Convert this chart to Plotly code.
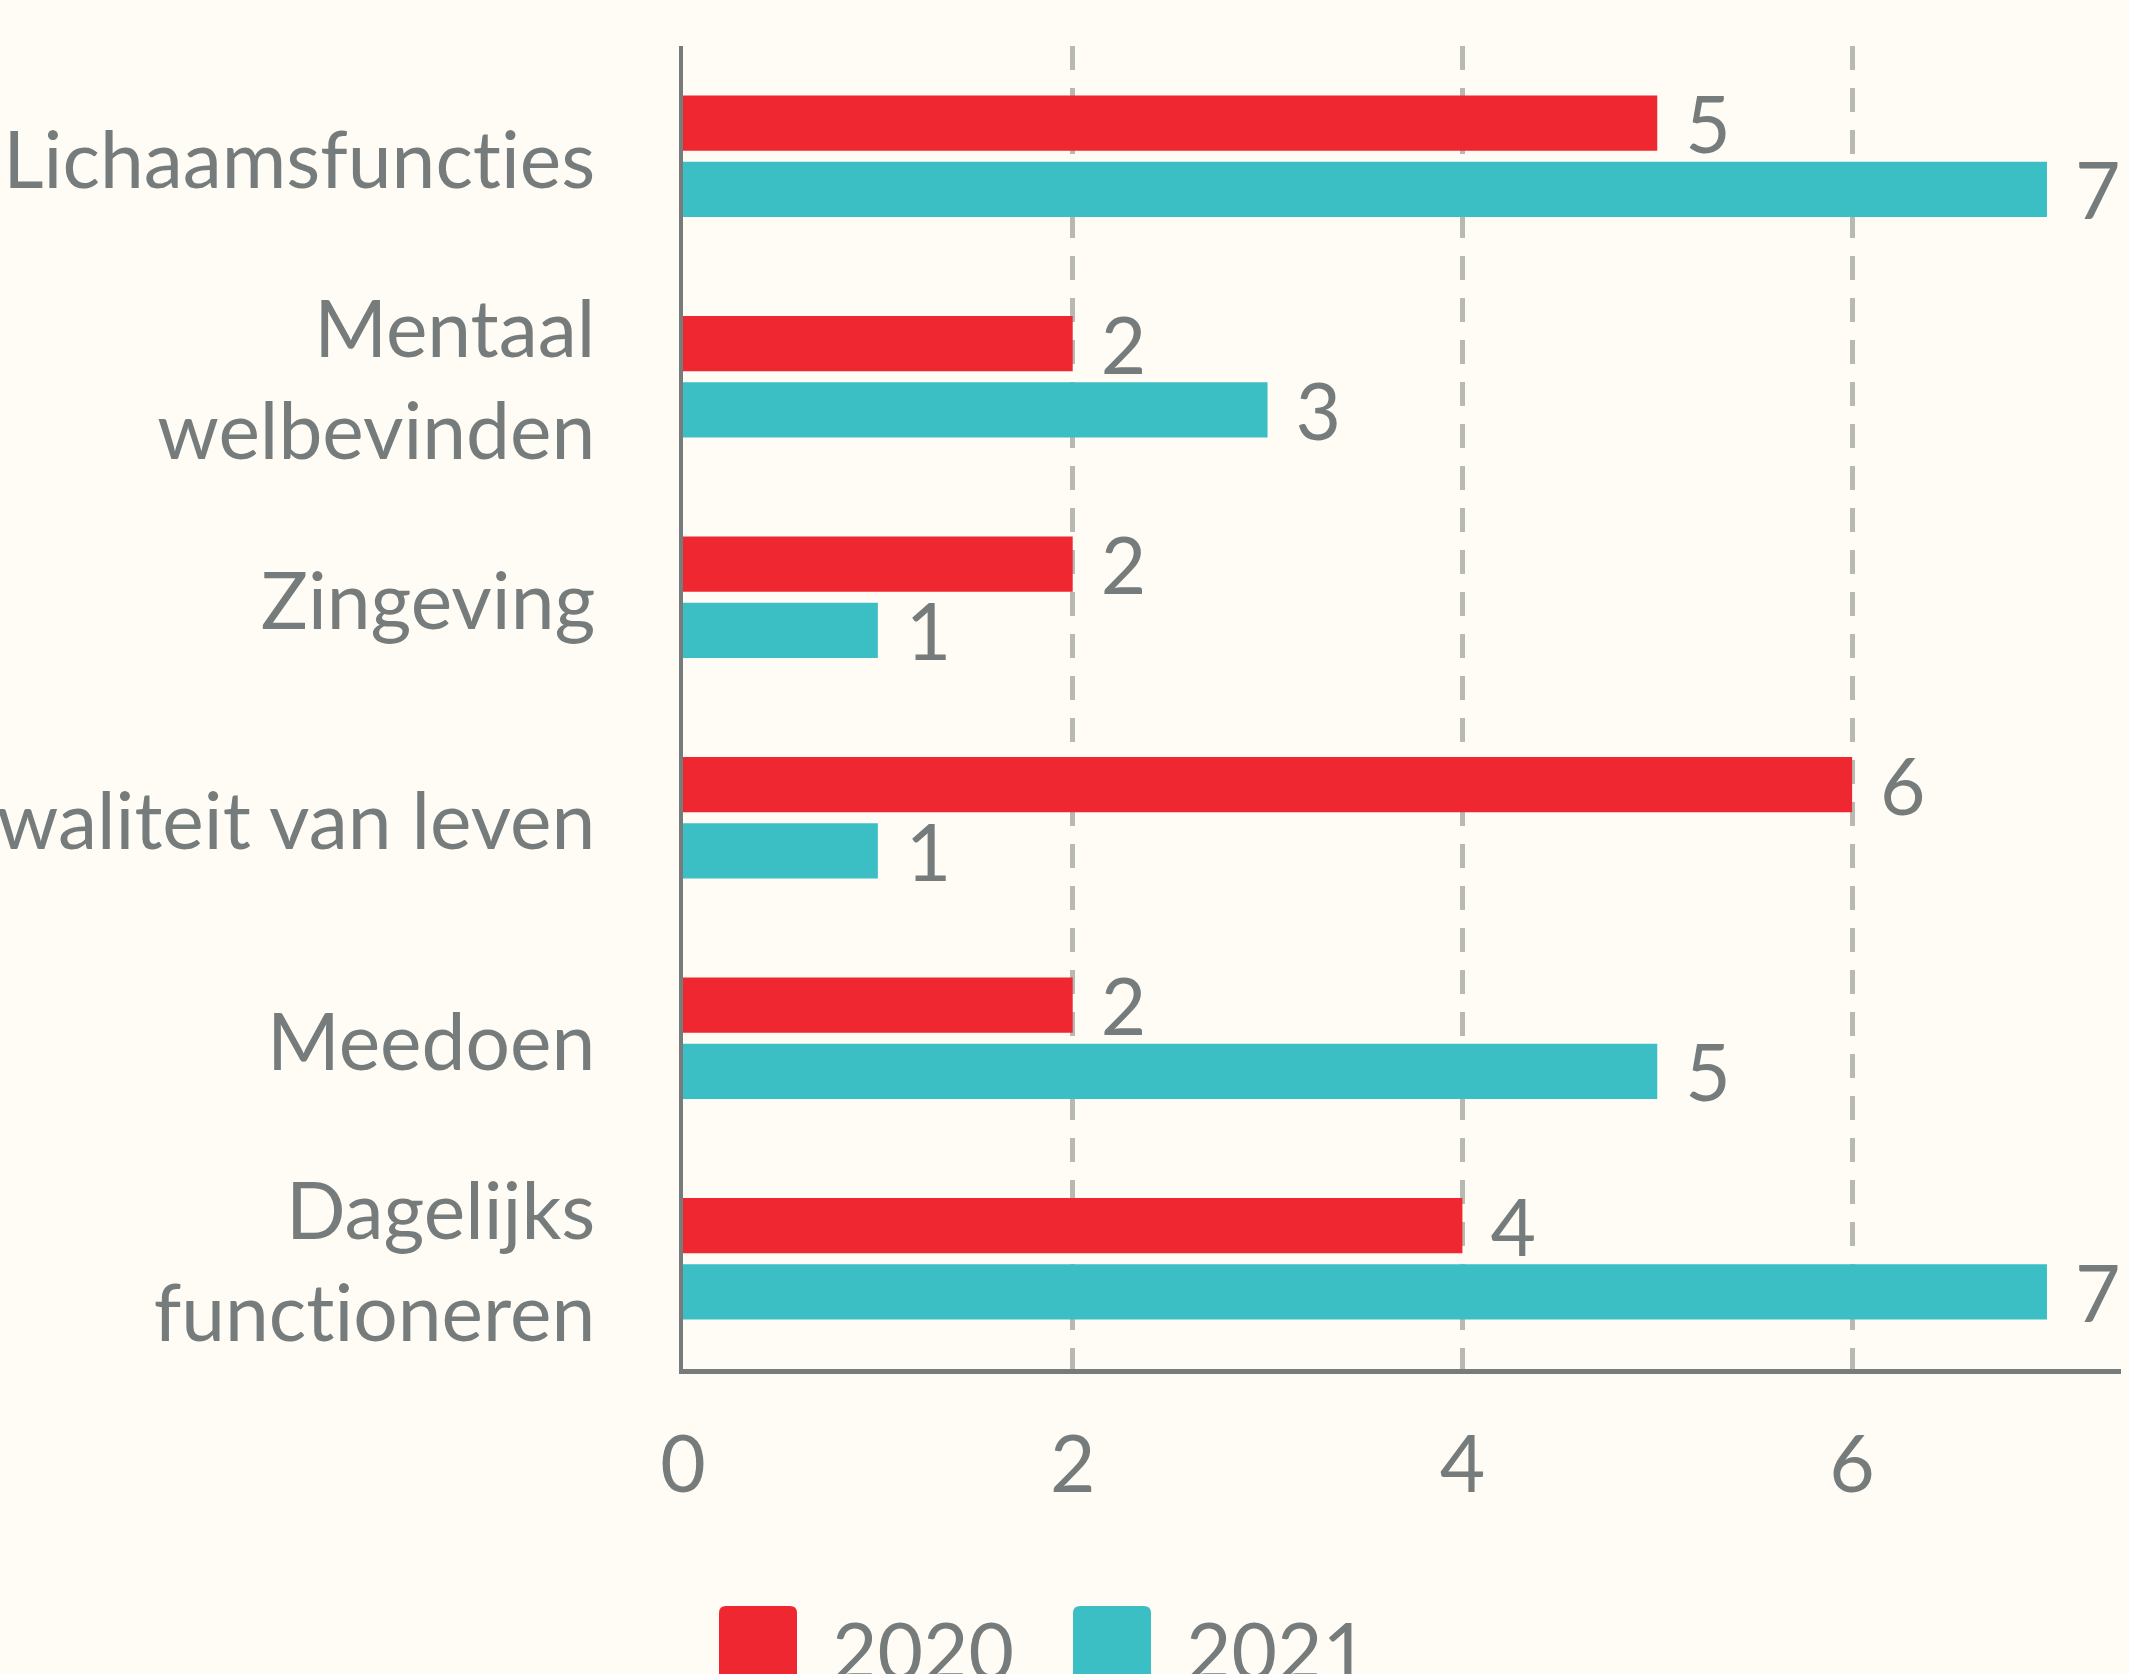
import plotly.graph_objects as go

categories = ["Lichaamsfunct\u200cies", "Mentaal<br>welbevinden", "Zingeving",
              "Kwaliteit van leven", "Meedoen", "Dagelijks<br>funct\u200cioneren"]
values_2020 = [5, 2, 2, 6, 2, 4]
values_2021 = [7, 3, 1, 1, 5, 7]
series_names = ["2020", "2021"]
x_ticks = [0, 2, 4, 6]

BG = "#FEFCF4"
GRAY = "#767C7C"
RED = "#EE2730"
TEAL = "#3BBFC4"
FONT = "Lato"
FS = 78.5

fig = go.Figure()
for name, vals, col in [(series_names[0], values_2020, RED), (series_names[1], values_2021, TEAL)]:
    fig.add_trace(go.Bar(
        y=categories, x=vals, orientation="h", name=name,
        marker=dict(color=col, line=dict(width=0)),
        text=vals, texttemplate="\u00a0\u200a%{x}", textposition="outside",
        textfont=dict(family=FONT, size=FS, color=GRAY),
        constraintext="none", cliponaxis=False, hoverinfo="skip",
    ))

# plot area geometry (pixels)
L, R, T, B = 683, 8, 46, 305
W, H = 2129, 1674
pw = W - L - R
ph = H - T - B

def px_x(p):
    return (p - L) / pw

def px_y(p):
    return (H - B - p) / ph

shapes = []
annotations = []
legend_items = [(series_names[0], RED, 719), (series_names[1], TEAL, 1073)]
for name, col, x0 in legend_items:
    x1 = x0 + 78
    y0, y1 = 1606, 1700
    r = 7
    path = (f"M {px_x(x0)},{px_y(y1)} L {px_x(x0)},{px_y(y0 + r)} "
            f"Q {px_x(x0)},{px_y(y0)} {px_x(x0 + r)},{px_y(y0)} "
            f"L {px_x(x1 - r)},{px_y(y0)} "
            f"Q {px_x(x1)},{px_y(y0)} {px_x(x1)},{px_y(y0 + r)} "
            f"L {px_x(x1)},{px_y(y1)} Z")
    shapes.append(dict(type="path", xref="paper", yref="paper", path=path,
                       fillcolor=col, line=dict(width=0), layer="above"))
    annotations.append(dict(text=name, xref="paper", yref="paper",
                            x=px_x(x1 + 33), y=px_y(1650), xanchor="left", yanchor="middle",
                            showarrow=False, font=dict(family=FONT, size=FS, color=GRAY)))

fig.update_layout(
    width=W, height=H,
    margin=dict(l=L, r=R, t=T, b=B, pad=0, autoexpand=False),
    paper_bgcolor=BG, plot_bgcolor=BG,
    font=dict(family=FONT, size=FS, color=GRAY),
    barmode="group", bargap=0.40, bargroupgap=0.167,
    showlegend=False,
    shapes=shapes, annotations=annotations,
    xaxis=dict(range=[0, 7.38], tickvals=x_ticks, showgrid=True, automargin=False,
               gridcolor="#B9B9B4", gridwidth=5, griddash="24px,18px",
               zeroline=False, showline=True, linecolor=GRAY, linewidth=5,
               ticks="outside", ticklen=24, tickcolor="rgba(0,0,0,0)",
               tickfont=dict(family=FONT, size=FS, color=GRAY)),
    yaxis=dict(type="category", autorange="reversed", showgrid=False, automargin=False,
               zeroline=False, showline=True, linecolor=GRAY, linewidth=4,
               ticks="outside", ticklen=68, tickcolor="rgba(0,0,0,0)",
               ticklabelshift=-4,
               tickfont=dict(family=FONT, size=FS, color=GRAY)),
)

fig.write_html("out.html", config={"displayModeBar": False},
               post_script="document.body.style.margin='0';document.body.style.background='#FEFCF4';")
